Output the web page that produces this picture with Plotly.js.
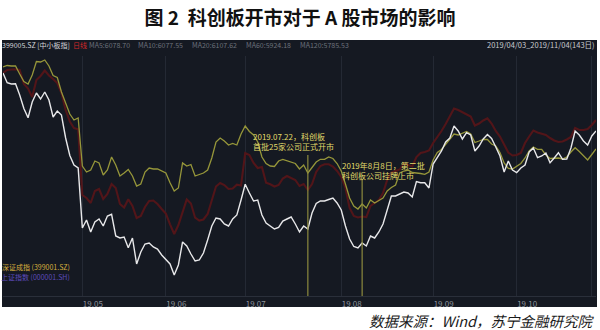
<!DOCTYPE html>
<html>
<head>
<meta charset="utf-8">
<script src="https://cdn.plot.ly/plotly-3.0.1.min.js"></script>
<style>
  html, body { margin: 0; padding: 0; background: #ffffff; }
  #chart { width: 600px; height: 330px; }
</style>
</head>
<body>
<div id="chart"></div>
<script>
// Trading-day index from 2019/04/03 (0) to 2019/11/04 (142); values are relative change (%)
const smeBoard = [ // 中小板指 399005.SZ (white)
  0.00, -0.97, -1.10, -1.07, -2.20, -3.55, -4.47, -2.90, -2.00, -2.60,
  -1.90, -2.70, -4.40, -3.80, -4.20, -6.50, -8.25, -9.20, -9.50, -15.50,
  -14.70, -15.90, -14.90, -14.60, -15.30, -14.30, -14.13, -16.30, -16.50, -16.40,
  -17.47, -16.50, -19.10, -17.90, -17.10, -17.00, -17.40, -17.60, -18.20, -18.70,
  -19.10, -20.20, -19.20, -16.90, -17.30, -18.10, -18.80, -18.70, -18.00, -16.70,
  -15.30, -14.50, -14.60, -15.10, -15.30, -14.60, -14.20, -12.70, -11.13, -12.00,
  -12.80, -12.70, -14.20, -15.00, -15.30, -15.60, -15.45, -14.80, -14.60, -14.40,
  -15.10, -15.90, -15.30, -15.60, -14.00, -13.05, -12.80, -12.80, -12.65, -12.50,
  -13.00, -13.70, -15.30, -16.60, -17.35, -17.50, -17.00, -17.30, -16.30, -16.50,
  -15.90, -15.10, -13.70, -12.30, -12.30, -12.10, -11.90, -12.00, -12.40, -10.85,
  -10.97, -10.97, -11.50, -9.10, -8.40, -7.80, -6.90, -6.50, -5.30, -5.80,
  -6.60, -5.97, -6.20, -7.80, -7.30, -6.60, -6.15, -6.55, -7.40, -8.30,
  -9.90, -8.80, -9.70, -9.97, -9.50, -9.20, -7.90, -7.50, -8.47, -8.30,
  -8.00, -8.97, -8.50, -7.97, -8.63, -8.60, -7.50, -5.80, -6.20, -6.80,
  -7.20, -6.30, -5.80
];
const szComponent = [ // 深证成指 399001.SZ (olive)
  0.60, 0.75, 0.70, 0.70, -0.10, -0.85, -1.10, -0.20, 1.15, 1.10,
  1.30, 0.70, -0.25, -0.45, -1.90, -3.10, -4.10, -4.70, -4.50, -9.30,
  -9.90, -9.70, -8.80, -9.00, -10.20, -9.70, -8.40, -9.20, -10.30, -10.00,
  -9.65, -10.30, -11.30, -11.10, -9.90, -9.50, -9.60, -9.60, -9.80, -10.00,
  -10.97, -11.80, -11.50, -9.00, -9.30, -9.15, -10.30, -10.15, -10.00, -9.70,
  -8.50, -6.90, -6.50, -6.80, -7.20, -7.05, -7.20, -6.10, -5.30, -5.85,
  -6.20, -6.90, -8.40, -9.05, -9.30, -9.35, -8.80, -8.65, -8.80, -8.97,
  -9.05, -9.60, -9.20, -10.00, -9.50, -8.90, -8.63, -8.63, -8.40, -8.55,
  -9.05, -9.80, -11.10, -12.50, -13.30, -13.60, -13.10, -13.50, -12.70, -13.00,
  -12.75, -12.50, -11.80, -11.45, -11.20, -10.00, -9.80, -9.70, -9.95, -9.97,
  -10.05, -10.13, -9.90, -8.70, -7.95, -7.65, -7.10, -6.55, -6.10, -6.20,
  -6.05, -5.85, -6.10, -6.95, -6.80, -6.63, -6.65, -7.10, -7.30, -7.95,
  -9.00, -9.55, -9.60, -9.35, -9.05, -8.50, -7.80, -7.40, -7.63, -7.63,
  -8.20, -8.55, -8.55, -8.50, -8.60, -8.40, -7.90, -7.47, -7.85, -8.30,
  -8.70, -8.15, -7.60
];
const shComposite = [ // 上证指数 000001.SH (dark red)
  0.00, 0.30, 0.35, 0.37, 0.30, -1.10, -1.55, -2.40, -0.70, -0.30,
  0.25, -0.25, -0.60, -1.00, -2.00, -3.70, -4.85, -5.50, -5.63, -12.20,
  -12.50, -13.00, -11.80, -11.60, -12.60, -12.10, -11.10, -11.50, -13.10, -13.45,
  -12.63, -13.30, -14.50, -14.30, -13.40, -12.80, -12.75, -13.10, -13.60, -14.05,
  -15.13, -16.10, -15.20, -13.80, -12.65, -13.05, -14.47, -14.75, -14.65, -14.10,
  -12.70, -11.35, -11.00, -11.20, -11.60, -11.55, -11.17, -11.25, -8.00, -8.20,
  -9.00, -9.50, -9.40, -10.97, -11.13, -11.35, -11.20, -10.55, -10.30, -10.50,
  -10.70, -11.30, -11.10, -11.70, -11.10, -9.90, -9.30, -9.13, -9.13, -9.35,
  -9.80, -10.40, -11.50, -13.50, -14.30, -14.45, -14.35, -14.40, -13.30, -13.00,
  -12.70, -12.00, -10.70, -9.97, -9.83, -9.65, -9.05, -9.20, -9.35, -8.40,
  -8.00, -7.90, -7.75, -7.00, -6.45, -5.80, -5.10, -4.35, -3.55, -3.70,
  -3.90, -4.15, -4.35, -5.25, -5.05, -4.75, -4.53, -5.05, -5.80, -6.35,
  -7.10, -7.95, -8.25, -8.20, -8.00, -7.00, -6.35, -5.75, -5.95, -6.10,
  -6.20, -6.50, -6.75, -6.90, -6.85, -6.65, -6.40, -5.50, -5.70, -5.70,
  -5.60, -5.20, -4.70
];

// Month ticks: first trading day of each month
const monthTickDays = [19, 39, 58, 81, 103, 123, 141];
const monthTickLabels = ['19.05', '19.06', '19.07', '19.08', '19.09', '19.10', '19.11'];

// 科创板 events: trading-day index, marker-line top (%), caption
const eventDays = [73, 86];
const eventTops = [-8.2, -10.6];
const eventTexts = [
  '2019.07.22，科创板<br>首批25家公司正式开市',
  '2019年8月8日，第二批<br>科创板公司挂牌上市'
];

const headerItems = [
  { text: '399005.SZ [中小板指]', px: 0, color: '#d2d4d8' },
  { text: '日线', px: 71, color: '#d0282a' },
  { text: 'MA5:6078.70', px: 87, color: '#6c717b' },
  { text: 'MA10:6077.55', px: 136, color: '#6c717b' },
  { text: 'MA20:6107.62', px: 190, color: '#6c717b' },
  { text: 'MA60:5924.18', px: 244, color: '#6c717b' },
  { text: 'MA120:5785.53', px: 298, color: '#6c717b' }
];
const rangeText = '2019/04/03_2019/11/04(143日)';
const legendNames = ['深证成指 (399001.SZ)', '上证指数 (000001.SH)'];
const legendColors = ['#d6ae3e', '#5d4bbd'];

const N = smeBoard.length;
const days = Array.from({ length: N }, (_, i) => i);

// plot-area geometry (pixels) used to place paper-referenced decorations
const W = 600, H = 330;
const L = 3, R = 4, T = 56, B = 34;
const pw = W - L - R, ph = H - T - B;
const px2paper = p => (p - L) / pw;
const py2paper = p => (H - B - p) / ph;

const cjk = '"Noto Sans CJK SC", "Noto Sans", sans-serif';

const traces = [
  { x: days, y: shComposite, type: 'scatter', mode: 'lines',
    line: { color: '#521519', width: 2.1 }, hoverinfo: 'skip' },
  { x: days, y: szComponent, type: 'scatter', mode: 'lines',
    line: { color: '#96963a', width: 1.3 }, hoverinfo: 'skip' },
  { x: days, y: smeBoard, type: 'scatter', mode: 'lines',
    line: { color: '#e8e8ea', width: 1.4 }, hoverinfo: 'skip' }
];

const shapes = [
  { type: 'rect', xref: 'paper', yref: 'paper', layer: 'below',
    x0: px2paper(2), x1: px2paper(597), y0: py2paper(307), y1: py2paper(40),
    fillcolor: '#151922', line: { width: 0 } }
];
eventDays.forEach((d, k) => {
  shapes.push({ type: 'line', xref: 'x', yref: 'y', layer: 'above',
    x0: d, x1: d, y0: eventTops[k], y1: -22.3,
    line: { color: '#8c8a3e', width: 1.2 } });
});

const annotations = [];
headerItems.forEach(h => {
  annotations.push({ xref: 'paper', yref: 'paper', x: px2paper(h.px), y: py2paper(45),
    xanchor: 'left', yanchor: 'middle', showarrow: false, text: h.text,
    font: { family: cjk, size: 7, color: h.color } });
});
annotations.push({ xref: 'paper', yref: 'paper', x: px2paper(597), y: py2paper(45),
  xanchor: 'right', yanchor: 'middle', showarrow: false, text: rangeText,
  font: { family: cjk, size: 7.5, color: '#c9cbd0' } });
legendNames.forEach((t, k) => {
  annotations.push({ xref: 'paper', yref: 'paper', x: px2paper(72), y: py2paper(267 + k * 10),
    xanchor: 'right', yanchor: 'middle', showarrow: false, text: t,
    font: { family: cjk, size: 7, color: legendColors[k] } });
});
const captionOffsets = [-13.5, -5.3];
const captionY = [-6.8, -9.7];
eventTexts.forEach((t, k) => {
  annotations.push({ xref: 'x', yref: 'y', x: eventDays[k] + captionOffsets[k], y: captionY[k],
    xanchor: 'left', yanchor: 'middle', align: 'left', showarrow: false, text: t,
    font: { family: cjk, size: 8, color: '#e2dc6a' } });
});
annotations.push({ xref: 'paper', yref: 'paper', x: px2paper(597), y: py2paper(320),
  xanchor: 'right', yanchor: 'middle', showarrow: false,
  text: '<i>数据来源：Wind，苏宁金融研究院</i>',
  font: { family: cjk, size: 14.5, color: '#1a1a1a' } });

const layout = {
  width: W, height: H,
  margin: { l: L, r: R, t: T, b: B, pad: 0 },
  paper_bgcolor: '#ffffff',
  plot_bgcolor: 'rgba(0,0,0,0)',
  showlegend: false,
  title: { text: '<b>图 2  科创板开市对于 A 股市场的影响</b>',
    x: 0.5, xanchor: 'center', y: 1 - 18 / H, yanchor: 'middle',
    font: { family: cjk, size: 19, color: '#111111' } },
  xaxis: {
    range: [0, 142], fixedrange: true,
    tickvals: monthTickDays, ticktext: monthTickLabels,
    ticklabelposition: 'outside right',
    ticks: '', showgrid: true, gridcolor: '#242934', gridwidth: 1,
    showline: true, linecolor: '#2a2f3a', linewidth: 1,
    zeroline: false,
    tickfont: { family: cjk, size: 8, color: '#8e939c' }
  },
  yaxis: {
    range: [-22.3, 1.7], fixedrange: true,
    showgrid: false, zeroline: false, showticklabels: false, ticks: ''
  },
  shapes: shapes,
  annotations: annotations
};

Plotly.newPlot('chart', traces, layout, { displayModeBar: false, staticPlot: true });
</script>
</body>
</html>
